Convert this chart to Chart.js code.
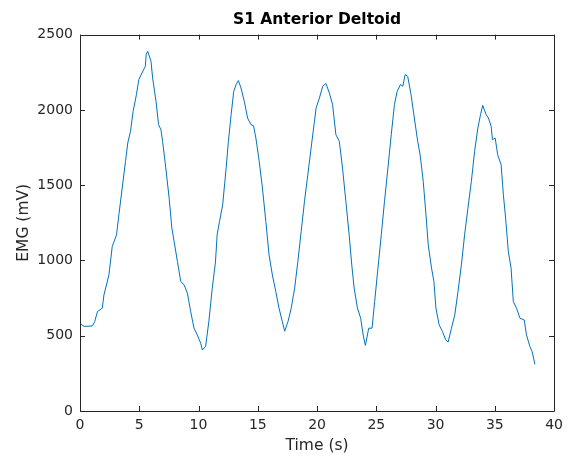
<!DOCTYPE html>
<html>
<head>
<meta charset="utf-8">
<script src="https://cdn.jsdelivr.net/npm/chart.js@4/dist/chart.umd.min.js"></script>
<style>
  html, body { margin: 0; padding: 0; background: #fff; }
  #wrap { width: 569px; height: 457px; }
</style>
</head>
<body>
<div id="wrap"><canvas id="c" width="569" height="457"></canvas></div>
<script>
// Smoothed EMG envelope, S1 anterior deltoid
const timeSec = [
  0.0, 0.35, 1.05, 1.24, 1.47, 1.88, 2.02, 2.44, 2.72, 3.08, 3.28, 3.56, 3.84, 4.03, 4.26, 4.48, 4.76, 4.96,
  5.23, 5.51, 5.59, 5.71, 5.99, 6.13, 6.41, 6.63, 6.83, 6.97, 7.24, 7.52, 7.75, 7.94, 8.22, 8.5, 8.78, 9.06,
  9.34, 9.62, 9.9, 10.18, 10.32, 10.6, 10.87, 11.16, 11.43, 11.57, 11.77, 12.04, 12.33, 12.52, 12.75, 12.97,
  13.17, 13.36, 13.58, 13.86, 14.14, 14.42, 14.64, 14.84, 15.12, 15.39, 15.68, 15.95, 16.23, 16.52, 16.79,
  17.07, 17.27, 17.55, 17.82, 18.11, 18.38, 18.66, 18.94, 19.22, 19.5, 19.78, 19.92, 20.2, 20.48, 20.75,
  21.04, 21.31, 21.59, 21.88, 22.15, 22.43, 22.71, 22.93, 23.13, 23.41, 23.68, 23.89, 24.08, 24.36, 24.64,
  24.86, 25.14, 25.42, 25.69, 25.98, 26.26, 26.53, 26.76, 27.04, 27.24, 27.43, 27.65, 27.93, 28.21, 28.49,
  28.7, 28.96, 29.19, 29.38, 29.66, 29.86, 30.03, 30.3, 30.59, 30.86, 31.06, 31.34, 31.62, 31.89, 32.18,
  32.45, 32.73, 33.02, 33.29, 33.57, 33.79, 33.98, 34.27, 34.46, 34.69, 34.8, 35.03, 35.24, 35.53, 35.72,
  35.91, 36.14, 36.37, 36.56, 36.83, 37.12, 37.48, 37.67, 37.96, 38.15, 38.38
];
const emgMv = [
  580, 562, 565, 594, 660, 683, 771, 904, 1093, 1170, 1303, 1481, 1658, 1780, 1857, 1990, 2101, 2201,
  2245, 2289, 2370, 2390, 2323, 2212, 2057, 1902, 1868, 1791, 1614, 1414, 1215, 1126, 993, 860, 838, 783,
  660, 550, 505, 450, 405, 430, 594, 816, 990, 1170, 1259, 1370, 1614, 1791, 1968, 2123,
  2168, 2195, 2146, 2057, 1946, 1902, 1895, 1813, 1658, 1481, 1259, 1037, 904, 793, 683,
  594, 530, 594, 683, 816, 993, 1192, 1392, 1569, 1747, 1924, 2013, 2079, 2157, 2175,
  2112, 2035, 1835, 1791, 1614, 1392, 1170, 970, 816, 683, 616, 505, 435, 550, 550,
  727, 949, 1170, 1392, 1614, 1835, 2035, 2123, 2168, 2157, 2234, 2223, 2101, 1946, 1791,
  1700, 1525, 1303, 1104, 949, 860, 683, 572, 527, 472, 458, 550, 638, 793, 971,
  1170, 1348, 1525, 1724, 1880, 1968, 2030, 1968, 1946, 1890, 1802, 1813, 1702, 1636, 1436,
  1281, 1059, 949, 727, 683, 616, 605, 505, 428, 394, 310
];
const xTicks = [0, 5, 10, 15, 20, 25, 30, 35, 40];
const yTicks = [0, 500, 1000, 1500, 2000, 2500];

const FONT = "'DejaVu Sans', sans-serif";
const AXIS_COLOR = '#262626';

// Box frame with inward tick marks on all four sides
const boxAxes = {
  id: 'boxAxes',
  afterDraw(chart) {
    const { ctx, chartArea: a, scales } = chart;
    const len = 5;
    ctx.save();
    ctx.strokeStyle = AXIS_COLOR;
    ctx.lineWidth = 1;
    ctx.beginPath();
    ctx.rect(Math.round(a.left) + 0.5, Math.round(a.top) + 0.5,
             Math.round(a.right - a.left), Math.round(a.bottom - a.top));
    scales.x.ticks.forEach(t => {
      const px = Math.round(scales.x.getPixelForValue(t.value)) + 0.5;
      ctx.moveTo(px, a.bottom); ctx.lineTo(px, a.bottom - len);
      ctx.moveTo(px, a.top); ctx.lineTo(px, a.top + len);
    });
    scales.y.ticks.forEach(t => {
      const py = Math.round(scales.y.getPixelForValue(t.value)) + 0.5;
      ctx.moveTo(a.left, py); ctx.lineTo(a.left + len, py);
      ctx.moveTo(a.right, py); ctx.lineTo(a.right - len, py);
    });
    ctx.stroke();
    ctx.restore();
  }
};

new Chart(document.getElementById('c'), {
  type: 'line',
  data: {
    datasets: [{
      data: timeSec.map((t, i) => ({ x: t, y: emgMv[i] })),
      borderColor: '#0072BD',
      borderWidth: 1,
      pointRadius: 0,
      tension: 0,
      fill: false
    }]
  },
  options: {
    responsive: false,
    animation: false,
    layout: { padding: { left: 0, right: 11, top: 0, bottom: 0 } },
    plugins: {
      legend: { display: false },
      tooltip: { enabled: false },
      title: {
        display: true,
        fullSize: false,
        text: 'S1 Anterior Deltoid',
        color: '#000',
        font: { family: FONT, size: 15.5, weight: 'bold' },
        padding: { top: 11, bottom: 5 }
      }
    },
    scales: {
      x: {
        type: 'linear',
        min: 0, max: 40,
        afterBuildTicks: s => { s.ticks = xTicks.map(v => ({ value: v })); },
        afterFit: s => { s.height = 46; },
        grid: { display: false, drawTicks: false },
        border: { display: false },
        ticks: { color: AXIS_COLOR, font: { family: FONT, size: 14 }, padding: 6, maxRotation: 0,
                 callback: v => String(v) },
        title: { display: true, text: 'Time (s)', color: AXIS_COLOR, font: { family: FONT, size: 15.5 }, padding: { top: 0, bottom: 2 } }
      },
      y: {
        min: 0, max: 2500,
        afterBuildTicks: s => { s.ticks = yTicks.map(v => ({ value: v })); },
        afterFit: s => { s.width = 80; },
        grid: { display: false, drawTicks: false },
        border: { display: false },
        ticks: { color: AXIS_COLOR, font: { family: FONT, size: 14 }, padding: 7,
                 callback: v => String(v) },
        title: { display: true, text: 'EMG (mV)', color: AXIS_COLOR, font: { family: FONT, size: 15.5 }, padding: { top: 15, bottom: 0 } }
      }
    }
  },
  plugins: [boxAxes]
});
</script>
</body>
</html>
